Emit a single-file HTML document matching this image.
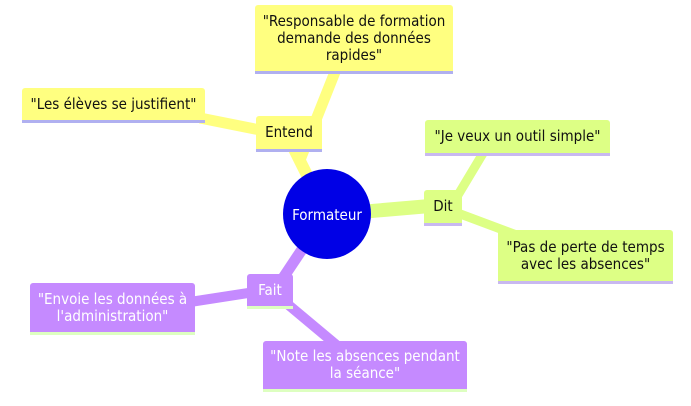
<!DOCTYPE html>
<html><head><meta charset="utf-8"><style>
body{margin:0;width:691px;height:406px;background:#fff;overflow:hidden;position:relative;font-family:"DejaVu Sans Condensed","DejaVu Sans","Liberation Sans",sans-serif;}
.n{position:absolute;box-sizing:border-box;display:flex;align-items:center;justify-content:center;text-align:center;font-size:15px;line-height:17px;border-radius:3px 3px 0 0;color:#111;}
.y{background:#ffff80;border-bottom:3px solid #b0b0f0;}
.g{background:#ddff85;border-bottom:3px solid #c8b8f0;}
.p{background:#c58aff;border-bottom:3px solid #ddffc0;color:#fff;}
</style></head><body>
<svg width="691" height="406" style="position:absolute;left:0;top:0">
<g stroke-linecap="butt" fill="none">
<line x1="300" y1="160" x2="335" y2="72" stroke="#ffff80" stroke-width="11"/>
<line x1="200" y1="118" x2="270" y2="132" stroke="#ffff80" stroke-width="11"/>
<line x1="292" y1="145" x2="312" y2="185" stroke="#ffff80" stroke-width="12"/>
<line x1="360" y1="212" x2="430" y2="206" stroke="#ddff85" stroke-width="14"/>
<line x1="455" y1="200" x2="485" y2="150" stroke="#ddff85" stroke-width="9"/>
<line x1="455" y1="212" x2="530" y2="240" stroke="#ddff85" stroke-width="9"/>
<line x1="303" y1="248" x2="275" y2="290" stroke="#c58aff" stroke-width="11"/>
<line x1="190" y1="302" x2="255" y2="292" stroke="#c58aff" stroke-width="10"/>
<line x1="285" y1="302" x2="340" y2="348" stroke="#c58aff" stroke-width="10"/>
</g>
<ellipse cx="327" cy="214" rx="44" ry="45" fill="#0000e6"/>
<text x="327" y="220" fill="#fff" font-size="15" text-anchor="middle" font-family="DejaVu Sans Condensed, DejaVu Sans, sans-serif">Formateur</text>
</svg>
<div class="n y" style="left:255px;top:5px;width:198px;height:69px;">"Responsable de formation<br>demande des données<br>rapides"</div>
<div class="n y" style="left:22px;top:88px;width:183px;height:35px;">"Les élèves se justifient"</div>
<div class="n y" style="left:256px;top:116px;width:66px;height:36px;">Entend</div>
<div class="n g" style="left:424px;top:190px;width:38px;height:36px;">Dit</div>
<div class="n g" style="left:425px;top:120px;width:185px;height:36px;">"Je veux un outil simple"</div>
<div class="n g" style="left:498px;top:230px;width:175px;height:54px;">"Pas de perte de temps<br>avec les absences"</div>
<div class="n p" style="left:247px;top:274px;width:46px;height:35px;">Fait</div>
<div class="n p" style="left:30px;top:283px;width:165px;height:52px;">"Envoie les données à<br>l'administration"</div>
<div class="n p" style="left:263px;top:341px;width:204px;height:51px;">"Note les absences pendant<br>la séance"</div>
</body></html>
